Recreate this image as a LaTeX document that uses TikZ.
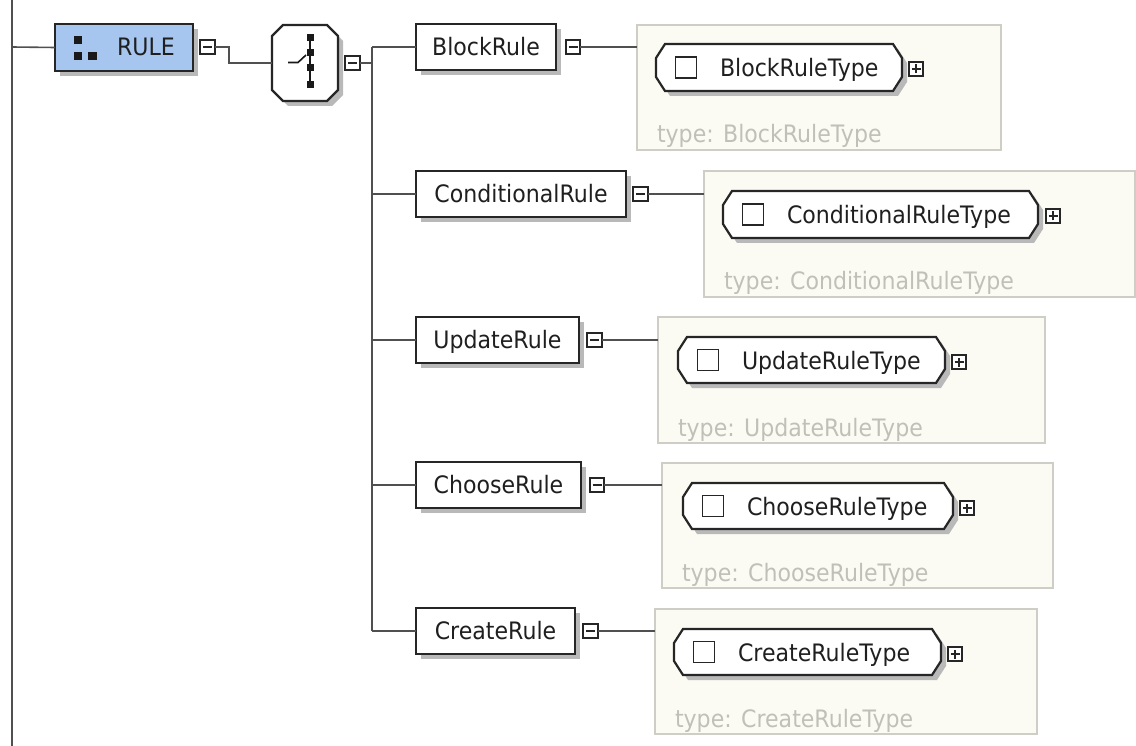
\documentclass[tikz,border=0pt]{standalone}
\usepackage{fontspec}
\setmainfont[FakeStretch=0.92]{DejaVu Sans}
\definecolor{linec}{RGB}{80,80,80}
\definecolor{rulefill}{RGB}{166,198,240}
\definecolor{typefill}{RGB}{251,251,243}
\definecolor{typeborder}{RGB}{206,206,198}
\definecolor{typetext}{RGB}{192,192,184}
\definecolor{shadowc}{RGB}{185,185,185}
% chamfered outline of a node: node, x chamfer, y chamfer, x offset, y offset
\newcommand\chamf[5]{([xshift=#2+#4,yshift=#5]#1.north west) -- ([xshift=-#2+#4,yshift=#5]#1.north east) -- ([xshift=#4,yshift=-#3+#5]#1.north east) -- ([xshift=#4,yshift=#3+#5]#1.south east) -- ([xshift=-#2+#4,yshift=#5]#1.south east) -- ([xshift=#2+#4,yshift=#5]#1.south west) -- ([xshift=#4,yshift=#3+#5]#1.south west) -- ([xshift=#4,yshift=-#3+#5]#1.north west) -- cycle}
\begin{document}
\begin{tikzpicture}[x=1pt,y=-1pt,
  every node/.style={inner sep=0pt, outer sep=0pt, font=\fontsize{24}{28}\selectfont, text=black!88},
  conn/.style={draw=linec, line width=1.6pt},
  elbox/.style={draw=black!85, line width=2.2pt, fill=white, minimum height=46pt, text height=17.5pt, text depth=0pt, anchor=west},
  tbox/.style={draw=typeborder, line width=1.2pt, fill=typefill, anchor=north west},
  hold/.style={anchor=north west},
  chf/.style={draw=black!85, line width=2.2pt, fill=white},
  tsq/.style={draw=black!85, line width=1.8pt, fill=white, minimum size=21pt},
  ttext/.style={anchor=base west},
  gtext/.style={anchor=base west, text=typetext},
  tgl/.style={draw=black!85, line width=1.6pt, fill=white, minimum size=14.5pt},
  minusbox/.style={tgl, path picture={\draw[line width=1.6pt] ([xshift=-4.5pt]path picture bounding box.center) -- ([xshift=4.5pt]path picture bounding box.center);}},
  plusbox/.style={tgl, path picture={\draw[line width=1.6pt] ([xshift=-4.5pt]path picture bounding box.center) -- ([xshift=4.5pt]path picture bounding box.center); \draw[line width=1.6pt] ([yshift=-4.5pt]path picture bounding box.center) -- ([yshift=4.5pt]path picture bounding box.center);}},
  sqmark/.style={fill=black!90},
  shadowfill/.style={fill=shadowc}
]
\useasboundingbox (0,0) rectangle (1136,746);
\fill[white] (0,0) rectangle (1136,746);

% coordinates
\coordinate (lefttop) at (12,0);
\coordinate (leftbot) at (12,746);
\coordinate (leftj) at (12,47);
\coordinate (vtop) at (372,47);
\coordinate (vbot) at (372,631);

% type boxes
\node[tbox, minimum width=364pt, minimum height=125pt] (blockt) at (637,25) {};
\node[gtext] (blockg) at (657,143) {type: BlockRuleType};
\node[tbox, minimum width=431pt, minimum height=126pt] (condt) at (704,171) {};
\node[gtext] (condg) at (724,290) {type: ConditionalRuleType};
\node[tbox, minimum width=387pt, minimum height=126pt] (updt) at (658,317) {};
\node[gtext] (updg) at (678,436) {type: UpdateRuleType};
\node[tbox, minimum width=391pt, minimum height=125pt] (chooset) at (662,463) {};
\node[gtext] (chooseg) at (682,581) {type: ChooseRuleType};
\node[tbox, minimum width=382pt, minimum height=125pt] (createt) at (655,609) {};
\node[gtext] (createg) at (675,727) {type: CreateRuleType};

% placeholders for chamfered shapes
\node[hold, minimum width=66pt, minimum height=76pt] (choice) at (272,25) {};
\node[hold, minimum width=246pt, minimum height=47pt] (blocki) at (656,44) {};
\node[hold, minimum width=315pt, minimum height=47pt] (condi) at (723,191) {};
\node[hold, minimum width=267pt, minimum height=46pt] (updi) at (678,337) {};
\node[hold, minimum width=270pt, minimum height=46pt] (choosei) at (683,483) {};
\node[hold, minimum width=267pt, minimum height=46pt] (createi) at (674,629) {};

% shadows
\fill[shadowfill] (60,29) rectangle (198,76);
\fill[shadowfill] (421,29) rectangle (561,75);
\fill[shadowfill] (421,176) rectangle (631,222);
\fill[shadowfill] (421,322) rectangle (584,368);
\fill[shadowfill] (421,467) rectangle (586,513);
\fill[shadowfill] (421,613) rectangle (580,659);
\fill[shadowfill] \chamf{choice}{11pt}{11pt}{5pt}{-5pt};
\foreach \n in {blocki,condi,updi,choosei,createi}
  \fill[shadowfill] \chamf{\n}{9pt}{14pt}{5pt}{-5pt};

% RULE element
\node[elbox, fill=rulefill, minimum width=138pt, minimum height=47pt] (rule) at (55,47.5) {};
\fill[sqmark] (74,36) rectangle (82,44);
\fill[sqmark] (74,52) rectangle (82,60);
\fill[sqmark] (88,52) rectangle (97,60);
\node[ttext] (rulet) at (117,56) {RULE};
\node[minusbox] (rulem) at (207.5,47) {};

% choice compositor
\draw[chf] \chamf{choice}{11pt}{11pt}{0pt}{0pt};
\draw[line width=1.6pt, black!90] (310,38) -- (310,85);
\foreach \yy in {38,53,68,85} \fill[sqmark] (306.5,\yy-3.5) rectangle (313.5,\yy+3.5);
\draw[line width=1.6pt, black!90] (288,62.5) -- (298,62.5) -- (306,55);
\node[minusbox] (choicem) at (352.5,63) {};

% BlockRule
\node[elbox, minimum width=140pt] (block) at (416,47) {BlockRule};
\node[minusbox] (blockm) at (573,47) {};
\draw[chf] \chamf{blocki}{9pt}{14pt}{0pt}{0pt};
\node[tsq] (blocks) at (686,67.5) {};
\node[ttext] (blockl) at (720,76.5) {BlockRuleType};
\node[plusbox] (blockp) at (916,69) {};

% ConditionalRule
\node[elbox, minimum width=210pt] (cond) at (416,194) {ConditionalRule};
\node[minusbox] (condm) at (640.5,194) {};
\draw[chf] \chamf{condi}{9pt}{14pt}{0pt}{0pt};
\node[tsq] (conds) at (753,214.5) {};
\node[ttext] (condl) at (787,223.5) {ConditionalRuleType};
\node[plusbox] (condp) at (1053,216) {};

% UpdateRule
\node[elbox, minimum width=163pt] (upd) at (416,340) {UpdateRule};
\node[minusbox] (updm) at (594.5,340) {};
\draw[chf] \chamf{updi}{9pt}{14pt}{0pt}{0pt};
\node[tsq] (upds) at (708,360) {};
\node[ttext] (updl) at (742,369.5) {UpdateRuleType};
\node[plusbox] (updp) at (959,362) {};

% ChooseRule
\node[elbox, minimum width=165pt] (choose) at (416,485) {ChooseRule};
\node[minusbox] (choosem) at (597,485) {};
\draw[chf] \chamf{choosei}{9pt}{14pt}{0pt}{0pt};
\node[tsq] (chooses) at (713,506) {};
\node[ttext] (choosel) at (747,515.5) {ChooseRuleType};
\node[plusbox] (choosep) at (967,508) {};

% CreateRule
\node[elbox, minimum width=159pt] (create) at (416,631) {CreateRule};
\node[minusbox] (createm) at (590.5,631) {};
\draw[chf] \chamf{createi}{9pt}{14pt}{0pt}{0pt};
\node[tsq] (creates) at (704,652) {};
\node[ttext] (createl) at (738,661.5) {CreateRuleType};
\node[plusbox] (createp) at (955,654) {};

% connectors
\draw[conn] (lefttop) -- (leftbot);
\draw[conn] (leftj) -- (rule.west);
\draw[conn] (rulem.east) -- ++(14,0) |- (choice.west);
\draw[conn] (choicem.east) -- (vtop |- choicem.east);
\draw[conn] (vtop) -- (vbot);
\foreach \n in {block,cond,upd,choose,create}{
  \draw[conn] (vtop |- \n.west) -- (\n.west);
  \draw[conn] (\n m.east) -- (\n t.west |- \n m.east);
}
\end{tikzpicture}
\end{document}
